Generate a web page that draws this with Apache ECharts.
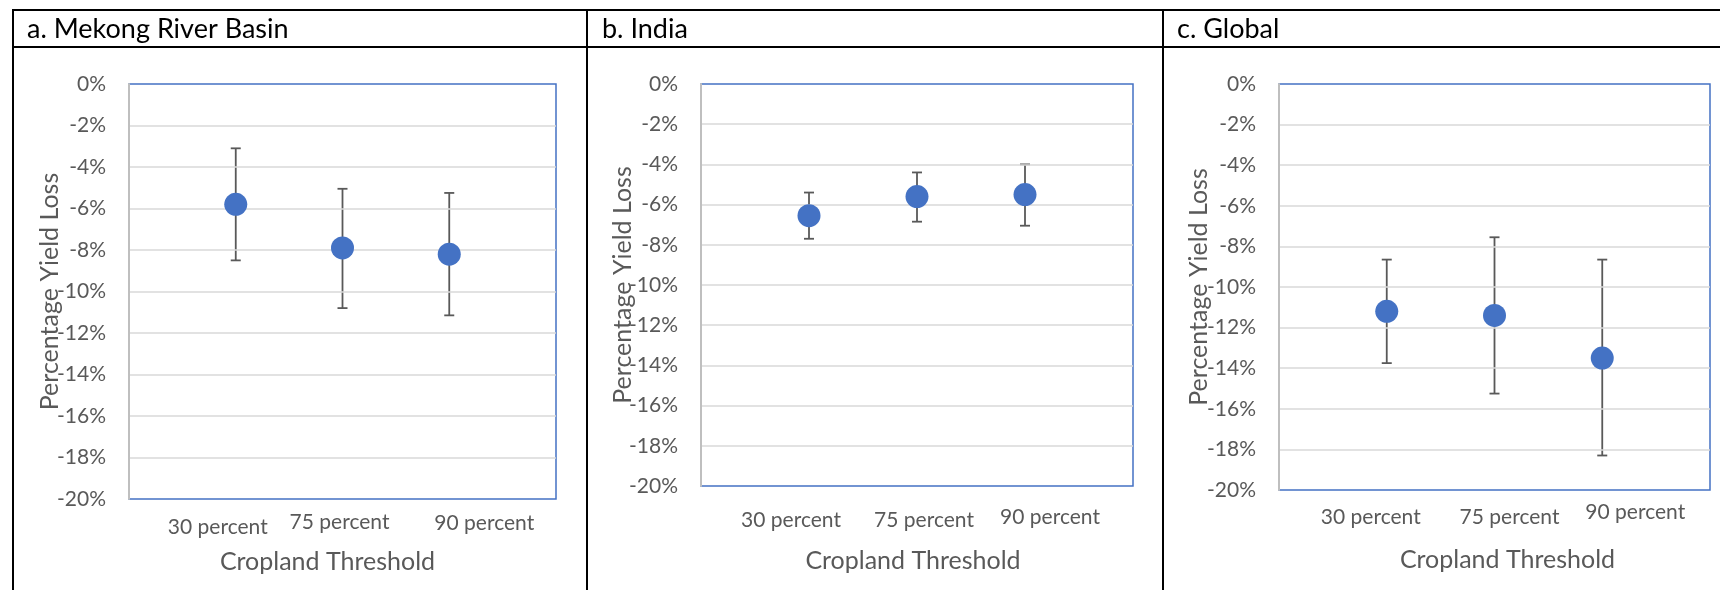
<!DOCTYPE html>
<html><head><meta charset="utf-8">
<script src="https://cdn.jsdelivr.net/npm/echarts@6/dist/echarts.min.js"></script>
<style>html,body{margin:0;padding:0;background:#fff}#c{width:1720px;height:590px}</style>
</head><body><div id="c"></div>
<script>
// ---- data ----
const categories = ['30 percent', '75 percent', '90 percent'];
const categoryPositions = [1, 2, 3];
const panelTitles = ['a. Mekong River Basin', 'b. India', 'c. Global'];
const yTickMin = -20, yTickMax = 0, yTickStep = 2;

const mekongMean = [-5.8, -7.9, -8.2];
const mekongHigh = [-3.1, -5.05, -5.25];
const mekongLow  = [-8.5, -10.8, -11.15];

const indiaMean = [-6.55, -5.6, -5.5];
const indiaHigh = [-5.4, -4.4, -4.0];
const indiaLow  = [-7.7, -6.85, -7.05];

const globalMean = [-11.2, -11.4, -13.5];
const globalHigh = [-8.65, -7.55, -8.65];
const globalLow  = [-13.75, -15.25, -18.3];

const xTitle = 'Cropland Threshold';
const yTitle = 'Percentage Yield Loss';

// ---- layout / style ----
const FONT = 'Lato';
const GRAY = '#595959';
const BLUE = '#4472C4';
const grids = [
  {left: 129, top: 84, width: 427, height: 415},
  {left: 701, top: 84, width: 432, height: 402},
  {left: 1279, top: 84, width: 431, height: 406}
];
const labelShift = [[-18, -3, 35], [-18, 7, 25], [-16, 15, 33]];
const labelDrop = [[28, 23, 24], [34, 34, 31], [27, 27, 22]];
const xNameGap = [50, 62, 57];
const xNameShift = [-15, -4, 13];
const yNameGap = [67, 66, 68];
const headerX = [27, 602, 1177];

const panels = [
  {mean: mekongMean, high: mekongHigh, low: mekongLow},
  {mean: indiaMean, high: indiaHigh, low: indiaLow},
  {mean: globalMean, high: globalHigh, low: globalLow}
];

function pad(dx) { return dx >= 0 ? [0, 0, 0, 2 * dx] : [0, -2 * dx, 0, 0]; }

const xAxes = [], yAxes = [], series = [];
panels.forEach((p, i) => {
  const rich = {};
  categories.forEach((c, k) => {
    rich['l' + k] = {padding: pad(labelShift[i][k]), lineHeight: 2 * labelDrop[i][k],
      fontSize: 21, color: GRAY, fontFamily: FONT};
  });
  xAxes.push({
    type: 'value', gridIndex: i, min: 0, max: 4, interval: 1,
    axisLine: {show: false}, axisTick: {show: false}, splitLine: {show: false},
    axisLabel: {
      margin: 0, showMinLabel: true, showMaxLabel: true,
      formatter: v => { const k = categoryPositions.indexOf(v); return k < 0 ? '' : '{l' + k + '|' + categories[k] + '}'; },
      rich: rich
    },
    name: xTitle, nameLocation: 'middle', nameGap: xNameGap[i], nameMoveOverlap: false,
    nameTextStyle: {fontSize: 25, color: GRAY, fontFamily: FONT, padding: pad(xNameShift[i])}
  });
  yAxes.push({
    type: 'value', gridIndex: i, min: yTickMin, max: yTickMax, interval: yTickStep,
    axisLine: {show: true, lineStyle: {color: '#BFBFBF', width: 2}},
    axisTick: {show: false},
    splitLine: {show: true, showMinLine: false, showMaxLine: false, lineStyle: {color: '#D9D9D9', width: 1.5}},
    axisLabel: {formatter: '{value}%', fontSize: 21, color: GRAY, fontFamily: FONT, margin: 23},
    name: yTitle, nameLocation: 'middle', nameRotate: 90, nameGap: yNameGap[i], nameMoveOverlap: false,
    nameTextStyle: {fontSize: 25, color: GRAY, fontFamily: FONT},
    z: 3
  });
  series.push({
    type: 'custom', xAxisIndex: i, yAxisIndex: i, z: 2,
    data: categoryPositions.map((x, k) => [x, p.low[k], p.high[k]]),
    encode: {x: 0, y: [1, 2]},
    renderItem: (params, api) => {
      const x = api.value(0);
      const a = api.coord([x, api.value(1)]);
      const b = api.coord([x, api.value(2)]);
      const w = 5, st = {stroke: GRAY, lineWidth: 1.8};
      return {type: 'group', children: [
        {type: 'line', shape: {x1: a[0], y1: a[1], x2: b[0], y2: b[1]}, style: st},
        {type: 'line', shape: {x1: a[0] - w, y1: a[1], x2: a[0] + w, y2: a[1]}, style: st},
        {type: 'line', shape: {x1: b[0] - w, y1: b[1], x2: b[0] + w, y2: b[1]}, style: st}
      ]};
    },
    silent: true, animation: false
  });
  series.push({
    type: 'scatter', xAxisIndex: i, yAxisIndex: i, z: 4,
    data: categoryPositions.map((x, k) => [x, p.mean[k]]),
    symbolSize: 23, itemStyle: {color: BLUE, opacity: 1},
    animation: false
  });
});

const lineStyle = {stroke: '#000', lineWidth: 2};
const graphic = [
  {type: 'line', shape: {x1: 12, y1: 10, x2: 1720, y2: 10}, style: lineStyle},
  {type: 'line', shape: {x1: 12, y1: 47, x2: 1720, y2: 47}, style: lineStyle},
  {type: 'line', shape: {x1: 13, y1: 9, x2: 13, y2: 590}, style: lineStyle},
  {type: 'line', shape: {x1: 587, y1: 9, x2: 587, y2: 590}, style: lineStyle},
  {type: 'line', shape: {x1: 1163, y1: 9, x2: 1163, y2: 590}, style: lineStyle}
];
panelTitles.forEach((t, i) => {
  graphic.push({type: 'text', left: headerX[i], top: 16,
    style: {text: t, fontSize: 27, fontFamily: FONT, fill: '#000'}});
});

const chart = echarts.init(document.getElementById('c'), null, {renderer: 'canvas'});
chart.setOption({
  animation: false,
  backgroundColor: '#fff',
  grid: grids.map(g => Object.assign({show: true, borderColor: BLUE, borderWidth: 1.5, backgroundColor: 'transparent'}, g)),
  xAxis: xAxes, yAxis: yAxes, series: series, graphic: graphic
});
</script></body></html>
